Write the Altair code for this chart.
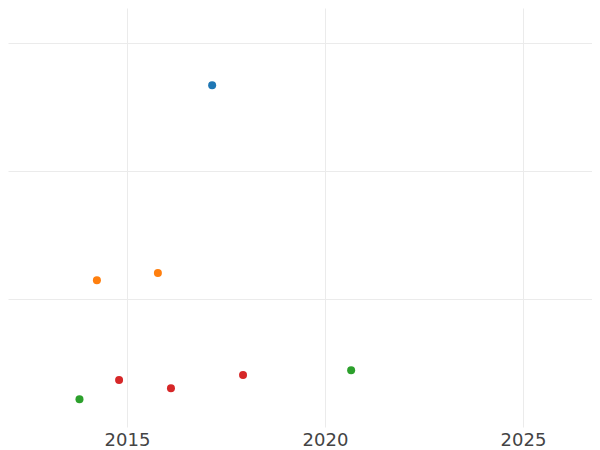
import altair as alt
import pandas as pd

groups = ["A", "B", "B", "C", "C", "D", "D", "D"]
years = [2017.15, 2014.24, 2015.78, 2013.80, 2020.66, 2014.80, 2016.11, 2017.93]
values = [2.670, 1.146, 1.203, 0.216, 0.443, 0.367, 0.302, 0.406]

group_names = ["A", "B", "C", "D"]
group_colors = ["#1f77b4", "#ff7f0e", "#2ca02c", "#d62728"]

x_ticks = [2015, 2020, 2025]
y_ticks = [1, 2, 3]

df = pd.DataFrame({"group": groups, "year": years, "value": values})

chart = (
    alt.Chart(df)
    .mark_circle(size=64, opacity=1)
    .encode(
        x=alt.X(
            "year:Q",
            scale=alt.Scale(domain=[2011.995, 2026.742], nice=False, zero=False),
            axis=alt.Axis(
                values=x_ticks,
                format="d",
                title=None,
                ticks=False,
                domain=False,
                grid=True,
                gridColor="#ebebeb",
                labelFont="DejaVu Sans",
                labelFontSize=18,
                labelColor="#444444",
                labelPadding=4,
            ),
        ),
        y=alt.Y(
            "value:Q",
            scale=alt.Scale(domain=[0, 3.2734], nice=False, zero=False),
            axis=alt.Axis(
                values=y_ticks,
                labels=False,
                ticks=False,
                domain=False,
                title=None,
                grid=True,
                gridColor="#ebebeb",
            ),
        ),
        color=alt.Color(
            "group:N",
            scale=alt.Scale(domain=group_names, range=group_colors),
            legend=None,
        ),
    )
    .properties(
        width=584,
        height=419,
        autosize=alt.AutoSizeParams(type="none"),
        padding={"left": 0, "top": 0, "right": 0, "bottom": 24},
        background="white",
    )
    .configure_view(stroke=None)
)

chart.save("out.html", embed_options={"renderer": "svg", "actions": False})
